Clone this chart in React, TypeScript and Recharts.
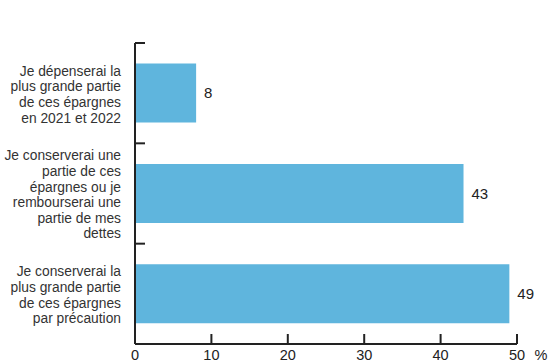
import React from 'react';
import { BarChart, Bar, XAxis, YAxis, LabelList } from 'recharts';

const LABELS = [
  ['Je dépenserai la', 'plus grande partie', 'de ces épargnes', 'en 2021 et 2022'],
  ['Je conserverai une', 'partie de ces', 'épargnes ou je', 'rembourserai une', 'partie de mes', 'dettes'],
  ['Je conserverai la', 'plus grande partie', 'de ces épargnes', 'par précaution'],
];
const VALUES = [8, 43, 49];
const X_TICKS = [0, 10, 20, 30, 40, 50];

const W = 550;
const H = 364;
const MARGIN = { top: 43, right: 33, left: 0, bottom: 0 };
const Y_W = 135;
const X_H = 20;
const BAND = (H - MARGIN.top - MARGIN.bottom - X_H) / LABELS.length;

const FONT = '"Liberation Sans", Arial, Helvetica, sans-serif';
const INK = '#222';
const BAR = '#5fb5dd';

const data = LABELS.map((l, i) => ({ name: String(i), lines: l, value: VALUES[i] }));

function YTick(props: any) {
  const { x, y, payload } = props;
  const lines = LABELS[Number(payload.value)];
  const lh = 15.6;
  const y0 = y + 1 - ((lines.length - 1) * lh) / 2;
  const ax = x + 14;
  const top = y - BAND / 2;
  return (
    <g>
      <line x1={ax} x2={ax + 10} y1={top} y2={top} stroke={INK} strokeWidth={2} />
      <text textAnchor="end" fontFamily={FONT} fontSize={13.8} fill="#333">
        {lines.map((t, i) => (
          <tspan key={i} x={x} y={y0 + i * lh} dy="0.36em">{t}</tspan>
        ))}
      </text>
    </g>
  );
}

function XTick(props: any) {
  const { x, y, payload } = props;
  const ay = y - 4;
  return (
    <g>
      <line x1={x} x2={x} y1={ay} y2={ay - 10} stroke={INK} strokeWidth={2} />
      <text x={x} y={ay + 16} textAnchor="middle" fontFamily={FONT} fontSize={14.5} fill={INK}>
        {payload.value}
      </text>
      {payload.value === 50 && (
        <text x={x + 24} y={ay + 16} textAnchor="middle" fontFamily={FONT} fontSize={14.5} fill={INK}>%</text>
      )}
    </g>
  );
}

export default function App() {
  return (
    <div style={{ position: 'absolute', left: 0, top: 0, width: W, height: H, background: '#fff' }}>
      <BarChart width={W} height={H} data={data} layout="vertical" margin={MARGIN} barCategoryGap="20.5%">
        <XAxis
          type="number"
          domain={[0, 50]}
          ticks={X_TICKS}
          height={X_H}
          axisLine={{ stroke: INK, strokeWidth: 2 }}
          tickLine={false}
          tickSize={0}
          tickMargin={4}
          tick={<XTick />}
          interval={0}
        />
        <YAxis
          type="category"
          dataKey="name"
          width={Y_W}
          axisLine={{ stroke: INK, strokeWidth: 2 }}
          tickLine={false}
          tickSize={0}
          tickMargin={14}
          tick={<YTick />}
          interval={0}
        />
        <Bar dataKey="value" fill={BAR} isAnimationActive={false}>
          <LabelList dataKey="value" position="right" offset={8} fill={INK} fontSize={15} fontFamily={FONT} />
        </Bar>
      </BarChart>
    </div>
  );
}
